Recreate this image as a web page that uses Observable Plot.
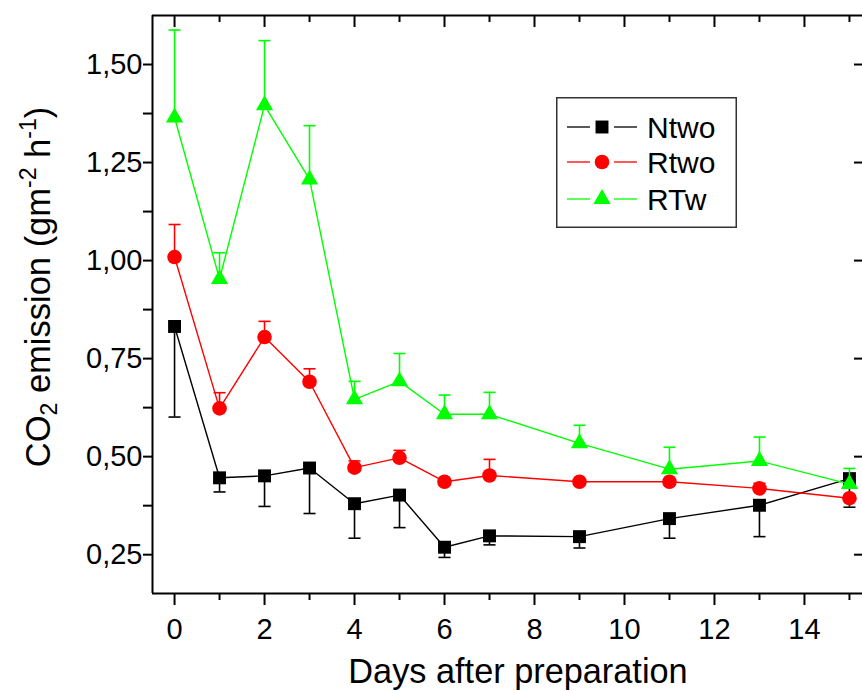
<!DOCTYPE html>
<html>
<head>
<meta charset="utf-8">
<script src="https://cdn.jsdelivr.net/npm/d3@7"></script>
<script src="https://cdn.jsdelivr.net/npm/@observablehq/plot@0.6"></script>
<style>
  html, body { margin: 0; padding: 0; background: #fff; }
  #wrap { position: relative; width: 862px; height: 691px; font-family: "Liberation Sans", Arial, sans-serif; }
  #legend { position: absolute; left: 556px; top: 97px; }
</style>
</head>
<body>
<div id="wrap"></div>
<script>
// ---- data ----
const days = [0, 1, 2, 3, 4, 5, 6, 7, 9, 11, 13, 15];
const seriesNames = ["Ntwo", "Rtwo", "RTw"];
const ntwo    = [0.832, 0.446, 0.451, 0.471, 0.380, 0.402, 0.269, 0.298, 0.296, 0.342, 0.376, 0.444];
const ntwoErr = [0.601, 0.410, 0.373, 0.355, 0.292, 0.319, 0.243, 0.275, 0.267, 0.292, 0.296, 0.371]; // lower bar ends
const rtwo    = [1.009, 0.623, 0.805, 0.691, 0.472, 0.497, 0.436, 0.452, 0.436, 0.436, 0.419, 0.394];
const rtwoErr = [1.092, 0.663, 0.845, 0.724, 0.489, 0.516, 0.442, 0.493, 0.436, 0.436, 0.432, 0.394]; // upper bar ends
const rtw     = [1.365, 0.953, 1.396, 1.207, 0.646, 0.692, 0.608, 0.608, 0.534, 0.468, 0.489, 0.430];
const rtwErr  = [1.588, 1.020, 1.561, 1.344, 0.692, 0.763, 0.657, 0.664, 0.580, 0.524, 0.550, 0.470]; // upper bar ends
const xMajor = [0, 2, 4, 6, 8, 10, 12, 14];
const xMinor = [1, 3, 5, 7, 9, 11, 13, 15];
const xTickLabels = ["0", "2", "4", "6", "8", "10", "12", "14"];
const yMajor = [0.25, 0.50, 0.75, 1.00, 1.25, 1.50];
const yMinor = [0.375, 0.625, 0.875, 1.125, 1.375];
const yTickLabels = ["0,25", "0,50", "0,75", "1,00", "1,25", "1,50"];
const xDomain = [-0.49, 15.29];
const yDomain = [0.151, 1.625];
const colors = {Ntwo: "#000000", Rtwo: "#ff0000", RTw: "#00ff00"};
const symbols = {Ntwo: "square", Rtwo: "circle", RTw: "triangle"};
const radii = {Ntwo: 7.3, Rtwo: 7.3, RTw: 6.4};

// ---- build table ----
const vals = {Ntwo: ntwo, Rtwo: rtwo, RTw: rtw};
const errs = {Ntwo: ntwoErr, Rtwo: rtwoErr, RTw: rtwErr};
const rows = [];
for (const s of seriesNames) {
  days.forEach((d, i) => rows.push({series: s, day: d, value: vals[s][i], err: errs[s][i]}));
}

const capSymbol = {
  draw(ctx, size) {
    const w = Math.sqrt(size) / 2;
    ctx.moveTo(-w, 0);
    ctx.lineTo(w, 0);
  }
};

const W = 862, H = 691, mL = 152, mR = 0, mT = 15, mB = 98;
const frameW = W - mL - mR, frameH = H - mT - mB;

const marks = [
  Plot.ruleY([yDomain[1]], {stroke: "#000", strokeWidth: 2}),
  Plot.ruleY([yDomain[0]], {stroke: "#000", strokeWidth: 2}),
  Plot.ruleX([xDomain[0]], {stroke: "#000", strokeWidth: 2}),
  Plot.tickX(xMajor, {x: d => d, stroke: "#000", strokeWidth: 2, insetBottom: frameH - 12}),
  Plot.tickX(xMinor, {x: d => d, stroke: "#000", strokeWidth: 2, insetBottom: frameH - 7}),
  Plot.tickY(yMajor, {y: d => d, stroke: "#000", strokeWidth: 2, insetLeft: frameW - 8}),
  Plot.axisX(xMajor, {anchor: "bottom", tickSize: 12, tickPadding: 13, strokeWidth: 2,
    tickFormat: d => xTickLabels[xMajor.indexOf(d)], fontSize: 29, label: null}),
  Plot.axisX(xMinor, {anchor: "bottom", tickSize: 7, strokeWidth: 2, tickFormat: () => "", label: null}),
  Plot.axisY(yMajor, {anchor: "left", tickSize: 9, tickPadding: 1, strokeWidth: 2,
    tickFormat: d => yTickLabels[yMajor.indexOf(d)], fontSize: 29, label: null}),
  Plot.axisY(yMinor, {anchor: "left", tickSize: 9, strokeWidth: 2, tickFormat: () => "", label: null})
];

for (const s of seriesNames) {
  const data = rows.filter(r => r.series === s);
  marks.push(
    Plot.line(data, {x: "day", y: "value", stroke: colors[s], strokeWidth: 1.4}),
    Plot.ruleX(data, {x: "day", y1: "value", y2: "err", stroke: colors[s], strokeWidth: 1.6}),
    Plot.dot(data, {x: "day", y: "err", symbol: capSymbol, r: 6.8, stroke: colors[s], strokeWidth: 1.6, fill: "none"}),
    Plot.dot(data, {x: "day", y: "value", symbol: symbols[s], r: radii[s], fill: colors[s], stroke: "none"})
  );
}

const chart = Plot.plot({
  width: W, height: H,
  marginLeft: mL, marginRight: mR, marginTop: mT, marginBottom: mB,
  x: {domain: xDomain, axis: null},
  y: {domain: yDomain, axis: null},
  style: {fontFamily: "Liberation Sans, Arial, sans-serif", color: "#000", background: "#fff", overflow: "visible"},
  marks
});

const svg = d3.select(chart);
svg.append("text")
  .attr("x", 518).attr("y", 683)
  .attr("text-anchor", "middle")
  .attr("font-size", 34.3)
  .attr("font-family", "Liberation Sans, Arial, sans-serif")
  .attr("fill", "#000")
  .text("Days after preparation");

const yl = svg.append("text")
  .attr("transform", "translate(50,287) rotate(-90)")
  .attr("text-anchor", "middle")
  .attr("font-size", 34.5)
  .attr("font-family", "Liberation Sans, Arial, sans-serif")
  .attr("fill", "#000");
yl.append("tspan").text("CO");
yl.append("tspan").attr("font-size", 23).attr("dy", 7).text("2");
yl.append("tspan").attr("dy", -7).text(" emission (gm");
yl.append("tspan").attr("font-size", 23).attr("dy", -14).text("-2");
yl.append("tspan").attr("dy", 14).text(" h");
yl.append("tspan").attr("font-size", 23).attr("dy", -14).text("-1");
yl.append("tspan").attr("dy", 14).text(")");

document.getElementById("wrap").appendChild(chart);

// legend
const lw = 181, lh = 131;
const leg = d3.select("#wrap").append("svg")
  .attr("id", "legend").attr("width", lw).attr("height", lh);
leg.append("rect").attr("x", 0.75).attr("y", 0.75).attr("width", lw - 1.5).attr("height", lh - 1.5)
  .attr("fill", "#fff").attr("stroke", "#333").attr("stroke-width", 1.5);
const rowY = [30, 65, 102];
seriesNames.forEach((s, i) => {
  const g = leg.append("g").attr("transform", `translate(0,${rowY[i]})`);
  g.append("line").attr("x1", 11).attr("x2", 34).attr("stroke", colors[s]).attr("stroke-width", 1.3);
  g.append("line").attr("x1", 58).attr("x2", 81).attr("stroke", colors[s]).attr("stroke-width", 1.3);
  const sym = {square: d3.symbolSquare, circle: d3.symbolCircle, triangle: d3.symbolTriangle}[symbols[s]];
  g.append("path").attr("transform", "translate(46,0)")
    .attr("d", d3.symbol(sym, Math.PI * radii[s] * radii[s])())
    .attr("fill", colors[s]);
  g.append("text").attr("x", 91).attr("y", 11).attr("font-size", 30)
    .attr("font-family", "Liberation Sans, Arial, sans-serif").attr("fill", "#000").text(s);
});
</script>
</body>
</html>
